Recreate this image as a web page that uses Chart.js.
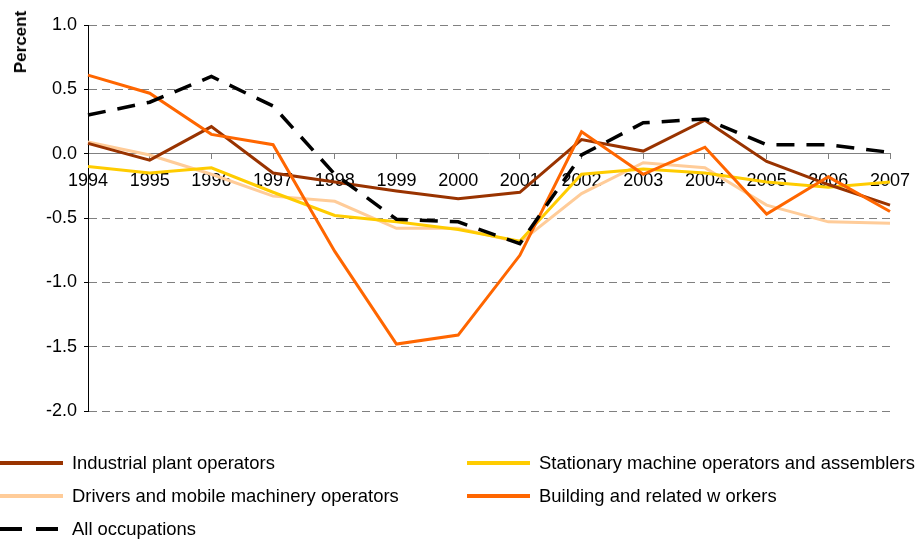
<!DOCTYPE html>
<html>
<head>
<meta charset="utf-8">
<script src="https://cdn.jsdelivr.net/npm/chart.js@4.4.0/dist/chart.umd.min.js"></script>
<style>
  body { margin: 0; background: #fff; font-family: 'Liberation Sans', Arial, sans-serif; }
  #wrap { position: relative; width: 916px; height: 542px; }
  #ytitle { position: absolute; left: 21px; top: 42px; transform: translate(-50%, -50%) rotate(-90deg);
            font-weight: bold; font-size: 17px; white-space: nowrap; }
  .item { position: absolute; height: 20px; display: flex; align-items: center; }
  .swatch { width: 63px; height: 4px; margin-right: 9px; flex: none; }
  .label { font-size: 19px; white-space: nowrap; transform: scaleX(0.97); transform-origin: left center; }
</style>
</head>
<body>
<div id="wrap">
  <canvas id="chart" width="916" height="542"></canvas>
  <div id="ytitle">Percent</div>
  <div id="legend"></div>
</div>
<script>
const years = ['1994','1995','1996','1997','1998','1999','2000','2001','2002','2003','2004','2005','2006','2007'];

const industrialPlant = [0.08, -0.05, 0.21, -0.15, -0.22, -0.29, -0.35, -0.30, 0.11, 0.02, 0.26, -0.06, -0.24, -0.40];
const stationaryMachine = [-0.10, -0.15, -0.11, -0.30, -0.48, -0.53, -0.59, -0.68, -0.16, -0.12, -0.15, -0.22, -0.26, -0.22];
const driversMobile = [0.09, -0.01, -0.16, -0.33, -0.37, -0.58, -0.58, -0.69, -0.31, -0.07, -0.11, -0.40, -0.53, -0.54];
const buildingRelated = [0.61, 0.47, 0.15, 0.07, -0.76, -1.48, -1.41, -0.79, 0.17, -0.16, 0.05, -0.47, -0.18, -0.45];
const allOccupations = [0.30, 0.40, 0.60, 0.37, -0.16, -0.51, -0.53, -0.70, -0.01, 0.24, 0.27, 0.07, 0.07, 0.01];

const yTicks = [-2.0, -1.5, -1.0, -0.5, 0.0, 0.5, 1.0];

const series = [
  { label: 'Industrial plant operators', data: industrialPlant, color: '#993300', dash: [], col: 0, row: 0 },
  { label: 'Stationary machine operators and assemblers', data: stationaryMachine, color: '#FFCC00', dash: [], col: 1, row: 0 },
  { label: 'Drivers and mobile machinery operators', data: driversMobile, color: '#FFCC99', dash: [], col: 0, row: 1 },
  { label: 'Building and related w orkers', data: buildingRelated, color: '#FF6600', dash: [], col: 1, row: 1 },
  { label: 'All occupations', data: allOccupations, color: '#000000', dash: [18, 12], col: 0, row: 2 }
];

// drawing order: peach & yellow underneath, dashed line on top
const drawOrder = [3, 4, 5, 2, 1];

const font = { family: "'Liberation Sans', Arial, sans-serif", size: 18 };

new Chart(document.getElementById('chart'), {
  type: 'line',
  data: {
    labels: years,
    datasets: series.map((s, i) => ({
      label: s.label,
      data: s.data,
      borderColor: s.color,
      backgroundColor: s.color,
      borderWidth: i == 4 ? 3.5 : 3,
      borderDash: s.dash,
      pointRadius: 0,
      tension: 0,
      order: drawOrder[i]
    }))
  },
  options: {
    responsive: false,
    animation: false,
    layout: { padding: { top: 25, bottom: 131, right: 26, left: 0 } },
    plugins: { legend: { display: false }, tooltip: { enabled: false } },
    scales: {
      x: {
        position: { y: 0 },
        offset: false,
        afterFit: (scale) => { scale.paddingLeft = 0; scale.paddingRight = 0; },
        grid: { display: true, drawOnChartArea: false, tickLength: 5, tickColor: '#808080', offset: false },
        border: { color: '#808080', width: 1 },
        ticks: { color: '#000', font: font, padding: 12, maxRotation: 0, autoSkip: false }
      },
      y: {
        min: -2, max: 1,
        afterFit: (scale) => { scale.width = 88; },
        afterBuildTicks: (scale) => { scale.ticks = yTicks.map(v => ({ value: v })); },
        grid: { color: '#808080', lineWidth: 1, tickLength: 4, tickColor: '#000' },
        border: { color: '#000', width: 1, dash: [8, 5] },
        ticks: { color: '#000', font: font, padding: 7, callback: (v) => v.toFixed(1) }
      }
    }
  }
});

// legend in two columns under the plot
const legend = document.getElementById('legend');
const colX = [0, 467];
const rowY = [453, 486, 519];
series.forEach(s => {
  const item = document.createElement('div');
  item.className = 'item';
  item.style.left = colX[s.col] + 'px';
  item.style.top = rowY[s.row] + 'px';
  const sw = document.createElement('div');
  sw.className = 'swatch';
  if (s.dash.length) {
    sw.style.background = 'repeating-linear-gradient(90deg, #000 0 22px, transparent 22px 36px)';
  } else {
    sw.style.background = s.color;
  }
  const tx = document.createElement('span');
  tx.className = 'label';
  tx.textContent = s.label;
  item.appendChild(sw);
  item.appendChild(tx);
  legend.appendChild(item);
});
</script>
</body>
</html>
